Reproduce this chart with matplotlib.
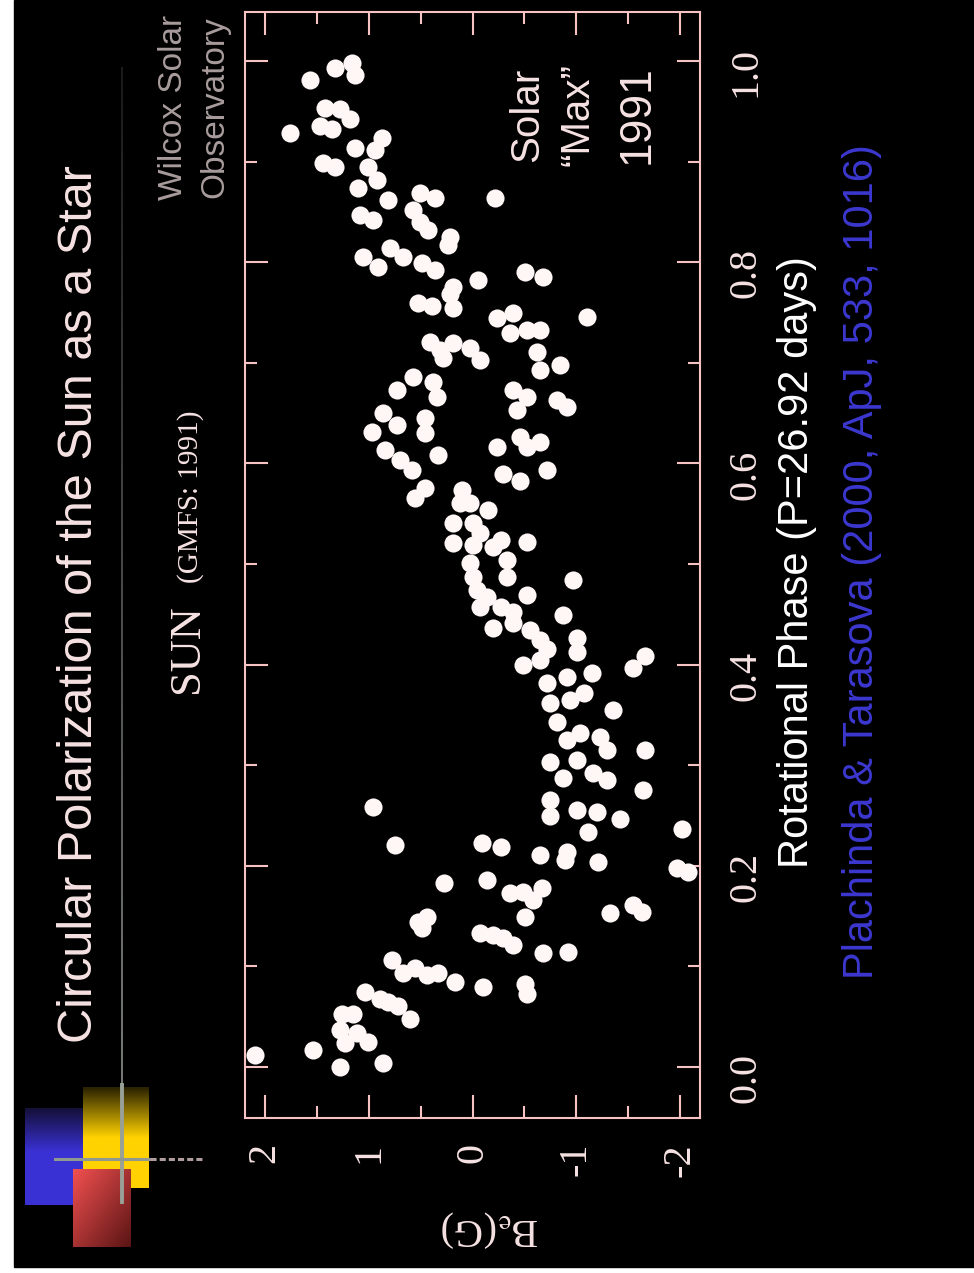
import numpy as np
import matplotlib.pyplot as plt
from matplotlib.collections import LineCollection
from matplotlib.colors import to_rgb

# rotational phase (P = 26.92 d) and mean field B_e in gauss
phase = [0.981, 0.993, 0.998, 0.986, 0.929, 0.954, 0.953, 0.943, 0.936, 0.933, 0.924, 0.914, 0.912,
         0.899, 0.895, 0.895, 0.882, 0.874, 0.862, 0.869, 0.864, 0.864, 0.847, 0.842, 0.852, 0.840,
         0.832, 0.825, 0.817, 0.805, 0.795, 0.814, 0.805, 0.799, 0.792, 0.782, 0.790, 0.785,
         0.775, 0.760, 0.757, 0.755, 0.769, 0.746, 0.745, 0.750, 0.730, 0.733, 0.733, 0.721, 0.713,
         0.720, 0.715, 0.703, 0.705, 0.711, 0.693, 0.698, 0.673, 0.686, 0.681, 0.666, 0.673, 0.666,
         0.653, 0.663, 0.656, 0.631, 0.650, 0.638, 0.645, 0.630, 0.613, 0.603, 0.593, 0.608, 0.616,
         0.626, 0.616, 0.621, 0.593, 0.590, 0.583, 0.566, 0.576, 0.574, 0.561, 0.561, 0.554, 0.541,
         0.541, 0.531, 0.521, 0.524, 0.522,
         0.519, 0.517, 0.501, 0.504, 0.487, 0.487, 0.484, 0.474, 0.467, 0.469, 0.457, 0.457, 0.452,
         0.449, 0.436, 0.441, 0.434, 0.424, 0.415, 0.426, 0.412, 0.400, 0.405, 0.397, 0.408, 0.382,
         0.388, 0.392, 0.362, 0.365, 0.372, 0.355, 0.343, 0.325, 0.332, 0.328, 0.315, 0.315, 0.303,
         0.305, 0.287, 0.292, 0.285, 0.275, 0.258, 0.265, 0.255, 0.253, 0.246,
         0.249, 0.236, 0.233, 0.221, 0.223, 0.219, 0.211, 0.214, 0.206, 0.204, 0.198, 0.194, 0.183,
         0.186, 0.173, 0.174, 0.178, 0.166, 0.149, 0.153, 0.161, 0.154, 0.144, 0.149, 0.138, 0.133,
         0.131, 0.128, 0.121, 0.113, 0.114, 0.106, 0.093, 0.098, 0.091, 0.093, 0.084, 0.079, 0.082,
         0.072, 0.074, 0.067, 0.064, 0.060, 0.047, 0.052, 0.052, 0.037, 0.034, 0.025, 0.024, 0.017,
         0.012, 0.000, 0.004]
bfield = [1.57, 1.33, 1.16, 1.13, 1.76, 1.42, 1.28, 1.18, 1.47, 1.35, 0.87, 1.13, 0.94,
          1.44, 1.33, 1.01, 0.92, 1.10, 0.81, 0.51, 0.36, -0.22, 1.08, 0.96, 0.57, 0.51,
          0.43, 0.22, 0.24, 1.06, 0.91, 0.80, 0.67, 0.49, 0.36, -0.05, -0.51, -0.68,
          0.19, 0.53, 0.39, 0.19, 0.22, -1.10, -0.24, -0.39, -0.36, -0.53, -0.65, 0.41, 0.31,
          0.19, 0.02, -0.07, 0.28, -0.62, -0.65, -0.84, 0.73, 0.57, 0.38, 0.34, -0.39, -0.53,
          -0.43, -0.81, -0.91, 0.97, 0.86, 0.73, 0.46, 0.46, 0.84, 0.70, 0.58, 0.33, -0.24,
          -0.46, -0.53, -0.65, -0.72, -0.29, -0.46, 0.55, 0.46, 0.10, 0.12, 0.02, -0.15, 0.19,
          0.00, -0.07, 0.19, -0.27, -0.53,
          0.00, -0.20, 0.02, -0.33, 0.00, -0.33, -0.97, -0.04, -0.14, -0.53, -0.07, -0.27, -0.39,
          -0.87, -0.20, -0.39, -0.55, -0.65, -0.72, -1.01, -1.01, -0.49, -0.65, -1.55, -1.66, -0.72,
          -0.91, -1.15, -0.75, -0.94, -1.07, -1.35, -0.81, -0.91, -1.04, -1.23, -1.30, -1.66, -0.75,
          -1.01, -0.87, -1.16, -1.30, -1.64, 0.96, -0.75, -1.01, -1.20, -1.42,
          -0.75, -2.02, -1.11, 0.75, -0.09, -0.27, -0.65, -0.91, -0.89, -1.21, -1.97, -2.08, 0.27,
          -0.14, -0.36, -0.49, -0.67, -0.58, -0.51, -1.33, -1.55, -1.63, 0.53, 0.44, 0.49, -0.07,
          -0.20, -0.29, -0.39, -0.68, -0.92, 0.78, 0.67, 0.55, 0.44, 0.33, 0.17, -0.10, -0.51,
          -0.53, 1.04, 0.89, 0.81, 0.72, 0.60, 1.26, 1.15, 1.28, 1.11, 1.01, 1.23, 1.54,
          2.10, 1.28, 0.86]

b_ticks = [2, 1, 0, -1, -2]
b_ticklabels = ["2", "1", "0", "-1", "-2"]
b_minor = [1.5, 0.5, -0.5, -1.5]
phase_ticks = [0.0, 0.2, 0.4, 0.6, 0.8, 1.0]
phase_ticklabels = ["0.0", "0.2", "0.4", "0.6", "0.8", "1.0"]
phase_minor = [0.1, 0.3, 0.5, 0.7, 0.9]

W, H = 974, 1273
txt_c = "#f6e2e2"
frame_c = "#f6c2c2"
sans = "Liberation Sans"
serif = "Liberation Serif"
plt.rcParams["mathtext.fontset"] = "stix"

fig = plt.figure(figsize=(W / 100, H / 100), dpi=100, facecolor="white")

# slide background, drawn in pixel units
bg = fig.add_axes([0, 0, 1, 1])
bg.set_xlim(0, W)
bg.set_ylim(H, 0)
bg.axis("off")
bg.add_patch(plt.Rectangle((14, 0), W - 14, 1267, color="black", zorder=0))


def grad_box(x0, x1, y0, y1, c0, c1, mode="v", frac=0.45):
    n = 80
    u, v = np.meshgrid(np.linspace(0, 1, n), np.linspace(0, 1, n))
    if mode == "v":
        t = np.clip(v / frac, 0, 1)
    else:
        t = np.clip((u + v) / 2, 0, 1)
    a, b = np.array(to_rgb(c0)), np.array(to_rgb(c1))
    img = a[None, None, :] * (1 - t[..., None]) + b[None, None, :] * t[..., None]
    bg.imshow(img, extent=(x0, x1, y1, y0), origin="upper", aspect="auto",
              interpolation="bilinear", zorder=2)


# logo squares
grad_box(25, 83, 1108, 1205, "#15103a", "#3a31d4", "v", 0.45)
grad_box(83, 149, 1087, 1188, "#2a2200", "#ffd200", "v", 0.5)
grad_box(73, 131, 1169, 1247, "#f25050", "#5a1414", "d")
bg.set_xlim(0, W)
bg.set_ylim(H, 0)

# grey rule down the left side, fading towards the top
yy = np.linspace(67, 1085, 60)
segs = [[(122, yy[i]), (122, yy[i + 1])] for i in range(len(yy) - 1)]
g = np.linspace(0.12, 0.55, len(segs))
bg.add_collection(LineCollection(segs, colors=[(v, v * 1.03, v) for v in g], linewidths=1.2, zorder=3))
bg.plot([122, 122], [1085, 1202], color="#98a098", lw=2.8, zorder=4)
bg.plot([55, 150], [1159, 1159], color="#909890", lw=2.2, zorder=4)
bg.plot([150, 202], [1159, 1159], color="#b09c9c", lw=2.2, ls=(0, (2, 1)), zorder=4)

# slide texts
rot = dict(rotation=90, rotation_mode="anchor", ha="center", va="baseline")
bg.text(92, 604, "Circular Polarization of the Sun as a Star", fontsize=35, color=txt_c,
        family=sans, **rot)
bg.text(182, 107, "Wilcox Solar", fontsize=24, color="#a89c9c", family=sans, **rot)
bg.text(223, 107, "Observatory", fontsize=24, color="#a89c9c", family=sans, **rot)
bg.text(198, 649, "SUN", fontsize=32, color=txt_c, family=serif, **rot)
bg.text(198, 497, "(GMFS: 1991)", fontsize=21, color=txt_c, family=serif, **rot)
bg.text(808, 562, "Rotational Phase (P=26.92 days)", fontsize=30, color="white", family=sans, **rot)
bg.text(873, 562, "Plachinda & Tarasova (2000, ApJ, 533, 1016)", fontsize=30, color="#3c38d0",
        family=sans, **rot)
bg.text(490, 1228, r"B$_{\mathrm{e}}$(G)", rotation=180, ha="center", va="center", fontsize=29,
        color=txt_c, family=serif)

# data panel
ax = fig.add_axes([245 / W, 1 - 1118 / H, 455 / W, 1106 / H])
ax.set_facecolor("none")
ax.scatter(bfield, phase, s=170, color="#fff6f6", linewidths=0, zorder=3)
ax.set_xlim(2.193, -2.193)
ax.set_ylim(-0.051, 1.049)
for sp in ax.spines.values():
    sp.set_color(frame_c)
    sp.set_linewidth(1.5)
ax.set_xticks(b_ticks)
ax.set_xticklabels(b_ticklabels)
ax.set_xticks(b_minor, minor=True)
ax.set_yticks(phase_ticks)
ax.set_yticklabels(phase_ticklabels)
ax.set_yticks(phase_minor, minor=True)
ax.tick_params(which="both", direction="in", top=True, bottom=True, left=True, right=True,
               color=frame_c, width=1.5)
ax.tick_params(which="major", length=16.5)
ax.tick_params(which="minor", length=8.5)
ax.tick_params(axis="x", labelrotation=90, labelsize=29, labelcolor=txt_c, pad=18)
ax.tick_params(axis="y", labelleft=False, labelright=True, labelrotation=90, labelsize=29,
               labelcolor=txt_c, pad=20)
for lab in ax.get_xticklabels() + ax.get_yticklabels():
    lab.set_fontfamily(serif)

ax.text(0.644, 0.907, "Solar", transform=ax.transAxes, fontsize=29, color=txt_c, family=sans, **rot)
ax.text(0.754, 0.907, "\u201cMax\u201d", transform=ax.transAxes, fontsize=29, color=txt_c, family=sans, **rot)
ax.text(0.886, 0.907, "1991", transform=ax.transAxes, fontsize=32, color=txt_c, family=sans, **rot)

fig.savefig("out.png", dpi=100, facecolor="white")
